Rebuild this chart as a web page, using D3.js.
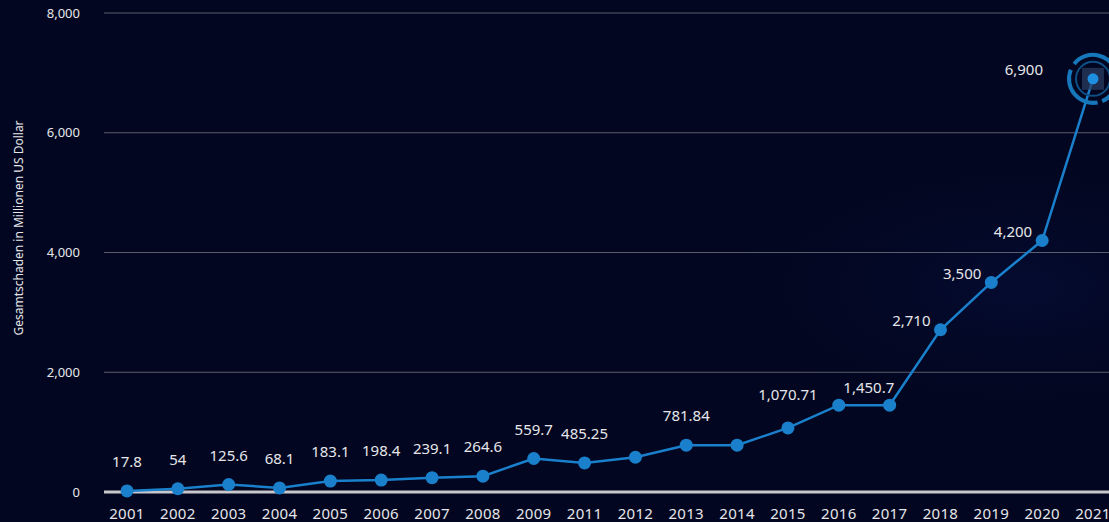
<!DOCTYPE html>
<html>
<head>
<meta charset="utf-8">
<script src="https://cdn.jsdelivr.net/npm/d3@7"></script>
<style>
  body { margin: 0; background: #020620; }
  svg { display: block; }
  text { font-family: "Noto Sans", sans-serif; fill: #e6e6ea; }
</style>
</head>
<body>
<div id="chart"></div>
<script>
var years = ['2001','2002','2003','2004','2005','2006','2007','2008','2009','2011','2012','2013','2014','2015','2016','2017','2018','2019','2020','2021'];
var damage = [17.8, 54, 125.6, 68.1, 183.1, 198.4, 239.1, 264.6, 559.7, 485.25, 580, 781.84, 781.84, 1070.71, 1450.7, 1450.7, 2710, 3500, 4200, 6900];
var labelled = ['2001','2002','2003','2004','2005','2006','2007','2008','2009','2011','2013','2015','2016','2018','2019','2020','2021'];
var yTicks = [0, 2000, 4000, 6000, 8000];
var yTitle = 'Gesamtschaden in Millionen US Dollar';

(function() {
  var width = 1109, height = 522;

  var svg = d3.select('#chart')
    .append('svg')
    .attr('width', width)
    .attr('height', height);

  var defs = svg.append('defs');
  var glow = defs.append('radialGradient').attr('id', 'glow')
    .attr('cx', '92%').attr('cy', '55%').attr('r', '30%');
  glow.append('stop').attr('offset', '0%').attr('stop-color', '#0a1650').attr('stop-opacity', 0.35);
  glow.append('stop').attr('offset', '100%').attr('stop-color', '#020620').attr('stop-opacity', 0);

  svg.append('rect').attr('width', width).attr('height', height).attr('fill', '#020620');
  svg.append('rect').attr('width', width).attr('height', height).attr('fill', 'url(#glow)');

  var x = d3.scalePoint()
    .domain(years)
    .range([127, 1093]);

  var y = d3.scaleLinear()
    .domain([0, 8000])
    .range([492, 13]);

  var fmt = d3.format(',');

  // gridlines
  svg.selectAll('.grid')
    .data(yTicks.filter(function(d) { return d > 0 }))
    .enter().append('line')
    .attr('class', 'grid')
    .attr('x1', 104).attr('x2', width)
    .attr('y1', function(d) { return y(d) }).attr('y2', function(d) { return y(d) })
    .attr('stroke', '#5b5e6e')
    .attr('stroke-width', 1);

  svg.selectAll('.ytick')
    .data(yTicks)
    .enter().append('text')
    .attr('class', 'ytick')
    .attr('x', 80)
    .attr('y', function(d) { return y(d) })
    .attr('dy', '0.35em')
    .attr('text-anchor', 'end')
    .style('font-size', '13px')
    .text(function(d) { return fmt(d) });

  svg.append('text')
    .attr('transform', 'translate(23,228) rotate(-90)')
    .attr('text-anchor', 'middle')
    .style('font-size', '12px')
    .text(yTitle);

  // zero line
  svg.append('line')
    .attr('x1', 104).attr('x2', width)
    .attr('y1', y(0)).attr('y2', y(0))
    .attr('stroke', '#c8c8cc')
    .attr('stroke-width', 3);

  svg.selectAll('.xtick')
    .data(years)
    .enter().append('text')
    .attr('class', 'xtick')
    .attr('x', function(d) { return x(d) })
    .attr('y', 519)
    .attr('text-anchor', 'middle')
    .style('font-size', '15px')
    .style('letter-spacing', '0.3px')
    .text(function(d) { return d });

  var points = years.map(function(d, i) { return { year: d, value: damage[i] } });

  var line = d3.line()
    .x(function(d) { return x(d.year) })
    .y(function(d) { return y(d.value) });

  svg.append('path')
    .datum(points)
    .attr('d', line)
    .attr('fill', 'none')
    .attr('stroke', '#1a80cc')
    .attr('stroke-width', 2.5);

  // highlight ring on the last point
  var last = points[points.length - 1];
  var hx = x(last.year), hy = y(last.value);
  svg.append('rect')
    .attr('x', hx - 11).attr('y', hy - 11)
    .attr('width', 22).attr('height', 22)
    .attr('fill', '#2c3f63').attr('opacity', 0.7);
  svg.append('circle')
    .attr('cx', hx).attr('cy', hy).attr('r', 17)
    .attr('fill', 'none').attr('stroke', '#0e4f86').attr('stroke-width', 2);
  var arc = d3.arc().innerRadius(22).outerRadius(26);
  svg.selectAll('.ring')
    .data([[-0.9, 1.35], [1.55, 2.75], [2.95, 5.1]])
    .enter().append('path')
    .attr('class', 'ring')
    .attr('transform', 'translate(' + hx + ',' + hy + ')')
    .attr('d', function(d) { return arc({ startAngle: d[0], endAngle: d[1] }) })
    .attr('fill', '#1677bb');

  svg.selectAll('.dot')
    .data(points)
    .enter().append('circle')
    .attr('class', 'dot')
    .attr('cx', function(d) { return x(d.year) })
    .attr('cy', function(d) { return y(d.value) })
    .attr('r', function(d, i) { return i == points.length - 1 ? 5.5 : 6.5 })
    .attr('fill', function(d, i) { return i == points.length - 1 ? '#1d8ee0' : '#1a80cc' });

  // value labels: above the point early on, to the left for the steep part
  svg.selectAll('.val')
    .data(points.filter(function(d) { return labelled.indexOf(d.year) >= 0 }))
    .enter().append('text')
    .attr('class', 'val')
    .attr('x', function(d) {
      if (+d.year >= 2018) { return x(d.year) - (d.year == '2021' ? 50 : 10) }
      if (d.year == '2016') { return x(d.year) + 30 }
      return x(d.year)
    })
    .attr('y', function(d) {
      var py = y(d.value);
      if (+d.year >= 2018) { return py - 9 }
      if (d.year == '2016') { return py - 17 }
      if (d.year == '2015') { return py - 33 }
      return py - 29
    })
    .attr('dy', '0.35em')
    .attr('text-anchor', function(d) { return +d.year >= 2018 ? 'end' : 'middle' })
    .style('font-size', '15px')
    .text(function(d) { return fmt(d.value) });
})();
</script>
</body>
</html>
